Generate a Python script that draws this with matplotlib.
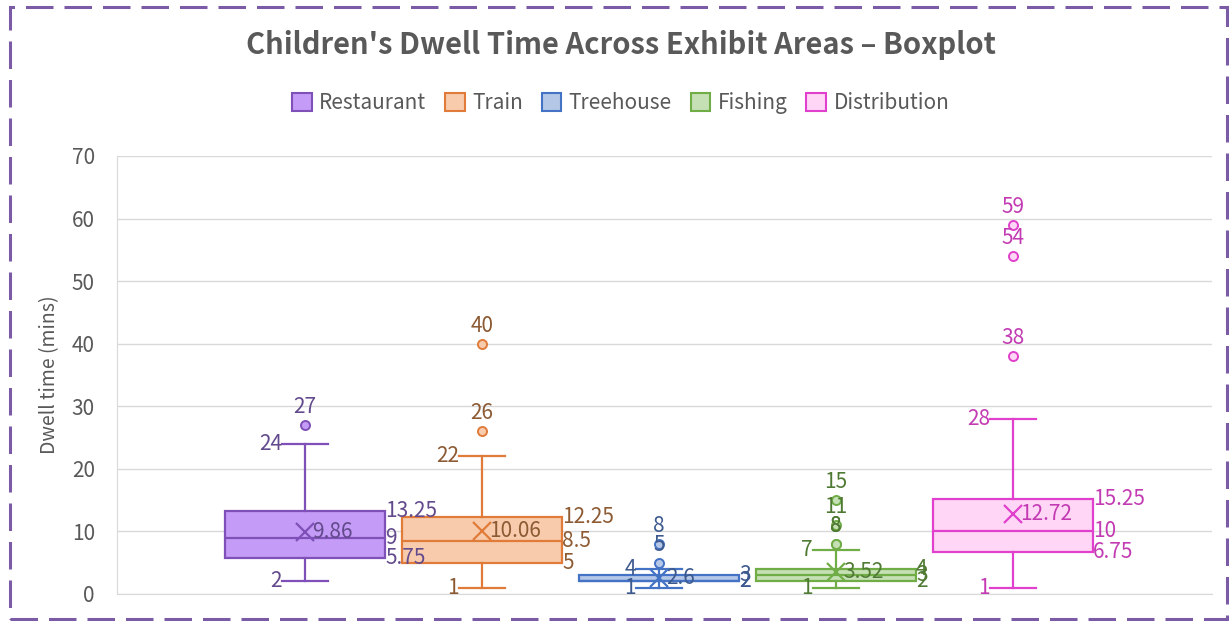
import matplotlib
matplotlib.use("Agg")
import matplotlib.pyplot as plt
from matplotlib.patches import Rectangle
import matplotlib.patches as mpatches

plt.rcParams['font.family'] = ['Noto Sans CJK SC', 'DejaVu Sans']

# ---- data ----
series = ["Restaurant", "Train", "Treehouse", "Fishing", "Distribution"]
whisker_low = [2, 1, 1, 1, 1]
q1 = [5.75, 5, 2, 2, 6.75]
median = [9, 8.5, 2, 3, 10]
q3 = [13.25, 12.25, 3, 4, 15.25]
whisker_high = [24, 22, 4, 7, 28]
means = [9.86, 10.06, 2.6, 3.52, 12.72]
outliers = [[27], [26, 40], [5, 8], [8, 8, 11, 15], [38, 54, 59]]

title = "Children's Dwell Time Across Exhibit Areas – Boxplot"
y_label = "Dwell time (mins)"
y_ticks = [0, 10, 20, 30, 40, 50, 60, 70]

# ---- styles ----
fills = ["#C49BF6", "#F8CBAD", "#B4C7E7", "#C5E0B4", "#FFD6F6"]
edges = ["#7E50B8", "#E07B39", "#4472C4", "#70AD47", "#E040CC"]
label_colors = ["#634A8C", "#8C5A33", "#3D5A8F", "#4F7A33", "#C23BB2"]

fig = plt.figure(figsize=(12.29, 6.21), dpi=100)
ax = fig.add_axes([117/1229, 1-594/621, (1212-117)/1229, (594-156)/621])

positions = list(range(len(series)))
box_w = 0.904
cap_w = 0.26
fs = 15

for i in range(len(series)):
    st = dict(med=median[i], q1=q1[i], q3=q3[i], whislo=whisker_low[i],
              whishi=whisker_high[i], fliers=outliers[i], mean=means[i],
              label=series[i])
    ax.bxp([st], positions=[positions[i]], widths=box_w, patch_artist=True,
           showmeans=True, capwidths=[cap_w], zorder=3,
           boxprops=dict(facecolor=fills[i], edgecolor=edges[i], linewidth=1.6),
           medianprops=dict(color=edges[i], linewidth=1.6),
           whiskerprops=dict(color=edges[i], linewidth=1.6),
           capprops=dict(color=edges[i], linewidth=1.6),
           flierprops=dict(marker='o', markersize=6.5, markerfacecolor=fills[i],
                           markeredgecolor=edges[i], markeredgewidth=1.4),
           meanprops=dict(marker='x', markersize=13, markeredgecolor=edges[i],
                          markeredgewidth=1.6))

    lc = label_colors[i]
    x = positions[i]
    for v in (whisker_low[i], whisker_high[i]):
        ax.annotate(f"{v:g}", (x - cap_w/2, v), ha='right', va='center',
                    fontsize=fs, color=lc, xytext=(0, 0), textcoords='offset points', zorder=5)
    for v in (q1[i], median[i], q3[i]):
        ax.annotate(f"{v:g}", (x + box_w/2, v), ha='left', va='center',
                    fontsize=fs, color=lc, xytext=(0, 0), textcoords='offset points', zorder=5)
    ax.annotate(f"{means[i]:g}", (x, means[i]), ha='left', va='center',
                fontsize=fs, color=lc, xytext=(5, 0), textcoords='offset points', zorder=5)
    for v in outliers[i]:
        ax.annotate(f"{v:g}", (x, v), ha='center', va='bottom',
                    fontsize=fs, color=lc, xytext=(0, 5), textcoords='offset points', zorder=5)

ax.set_xlim(-1.062, 5.124)
ax.set_ylim(0, 70)
ax.set_yticks(y_ticks)
ax.set_xticks([])
ax.yaxis.grid(True, color="#D9D9D9", linewidth=1)
ax.set_axisbelow(True)
for s in ["top", "right"]:
    ax.spines[s].set_visible(False)
ax.spines["left"].set_color("#D9D9D9")
ax.spines["bottom"].set_color("#D9D9D9")
ax.tick_params(axis='y', length=0, pad=16, labelsize=15, labelcolor="#595959")
ax.set_ylabel(y_label, fontsize=14, color="#595959", labelpad=8)

fig.text(0.505, 1-45/621, title, ha='center', va='center', fontsize=21,
         fontweight='bold', color="#595959")

handles = [mpatches.Patch(facecolor=fills[i], edgecolor=edges[i], linewidth=1.5, label=series[i])
           for i in range(len(series))]
leg = fig.legend(handles=handles, loc='center', bbox_to_anchor=(0.505, 1-103/621), ncol=5,
                 frameon=False, fontsize=15, handlelength=0.95, handleheight=0.95,
                 handletextpad=0.35, columnspacing=0.9)
for t in leg.get_texts():
    t.set_color("#595959")

border = Rectangle((10/1229, 2/621), 1 - 12/1229, 1 - 9/621, transform=fig.transFigure,
                   fill=False, edgecolor="#7B5AA6", linewidth=2.2, linestyle=(0, (9, 3.6)))
fig.patches.append(border)

fig.savefig("out.png", dpi=100)
